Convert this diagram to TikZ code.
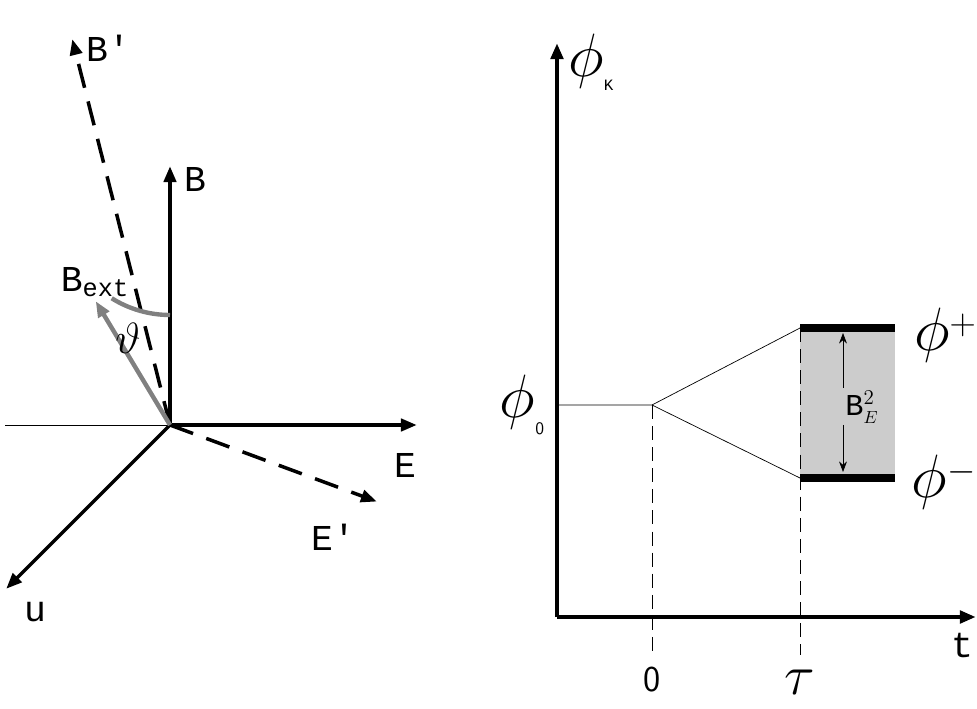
\documentclass[tikz,border=0pt]{standalone}
\usepackage{fontspec}
\setmonofont{Liberation Mono}
\usetikzlibrary{arrows.meta, positioning}
\begin{document}
\begin{tikzpicture}[x=0.02cm, y=-0.02cm, >={Triangle[length=9pt,width=7pt]}]
        \useasboundingbox (0,0) rectangle (977,709);
        % left: field frame
        \coordinate (O) at (170,425);
        \node [inner sep=0pt] (NB) at (170,165) {};
        \node [inner sep=0pt] (NE) at (418,425) {};
        \node [inner sep=0pt] (NU) at (5,590) {};
        \node [inner sep=0pt] (NBp) at (72,38) {};
        \node [inner sep=0pt] (NEp) at (378,502) {};
        \node [inner sep=0pt] (NBx) at (95,300) {};
        \coordinate (L) at (5,425);
        \draw (L) -- (O);
        \draw [->, line width=2pt] (O) -- (NB);
        \draw [->, line width=2pt] (O) -- (NE);
        \draw [->, line width=2pt] (O) -- (NU);
        \draw [->, line width=2pt, dash pattern=on 14pt off 8pt] (O) -- (NBp);
        \draw [->, line width=2pt, dash pattern=on 14pt off 8pt] (O) -- (NEp);
        \draw [->, line width=2.5pt, gray] (O) -- (NBx);
        \draw [line width=2.5pt, gray] (170,315) arc[start angle=90, end angle=122, radius=110];
        \node [font=\ttfamily\huge, anchor=west] (LB) at (178,180) {B};
        \node [font=\ttfamily\huge, anchor=west] (LE) at (388,465) {E};
        \node [font=\ttfamily\huge] (LU) at (35,612) {u};
        \node [font=\ttfamily\huge, anchor=west] (LBp) at (80,48) {B'};
        \node [font=\ttfamily\huge] (LEp) at (333,537) {E'};
        \node [font=\ttfamily\huge] (LBx) at (95,282) {B\textsubscript{ext}};
        \node [font=\Huge] (LT) at (128,338) {$\vartheta$};

        % right: phase diagram
        \coordinate (P) at (557,617);
        \node [inner sep=0pt] (NY) at (557,42) {};
        \node [inner sep=0pt] (NX) at (977,617) {};
        \fill [gray!40] (800,328) rectangle (895,478);
        \draw [->, line width=2.5pt] (P) -- (NY);
        \draw [->, line width=2.5pt] (P) -- (NX);
        \coordinate (A) at (557,405);
        \coordinate (S) at (652,405);
        \coordinate (Tp) at (800,328);
        \coordinate (Tm) at (800,478);
        \draw (A) -- (S) -- (Tp);
        \draw (S) -- (Tm);
        \draw [line width=4pt] (Tp) -- (895,328);
        \draw [line width=4pt] (Tm) -- (895,478);
        \draw [dash pattern=on 8pt off 4pt] (S) -- (652,655);
        \draw [dash pattern=on 8pt off 4pt] (Tp) -- (800,655);
        \draw [-{Stealth[length=6pt]}] (843,388) -- (843,333);
        \draw [-{Stealth[length=6pt]}] (843,425) -- (843,472);
        \node [font=\Huge, anchor=west, inner sep=0pt] (LK) at (568,62) {\scalebox{1.4}{$\phi$}\raisebox{-8pt}{\ttfamily\small K}};
        \node [font=\Huge, inner sep=0pt] (L0) at (522,405) {\scalebox{1.4}{$\phi$}\raisebox{-10pt}{\sffamily\normalsize 0}};
        \node [font=\Huge, anchor=east, inner sep=0pt] (Lp) at (977,335) {\scalebox{1.4}{$\phi$}$^{+}$};
        \node [font=\Huge, anchor=east, inner sep=0pt] (Lm) at (977,482) {\scalebox{1.4}{$\phi$}$^{-}$};
        \node [font=\LARGE, inner sep=0pt] (LBE) at (862,407) {\ttfamily B$_{\scriptscriptstyle E}^{\scriptstyle 2}$};
        \node [font=\sffamily\huge] (Lz) at (652,680) {0};
        \node [font=\Huge] (Ltau) at (800,682) {\scalebox{1.3}{$\tau$}};
        \node [font=\ttfamily\huge] (Lt) at (962,646) {t};
\end{tikzpicture}
\end{document}
